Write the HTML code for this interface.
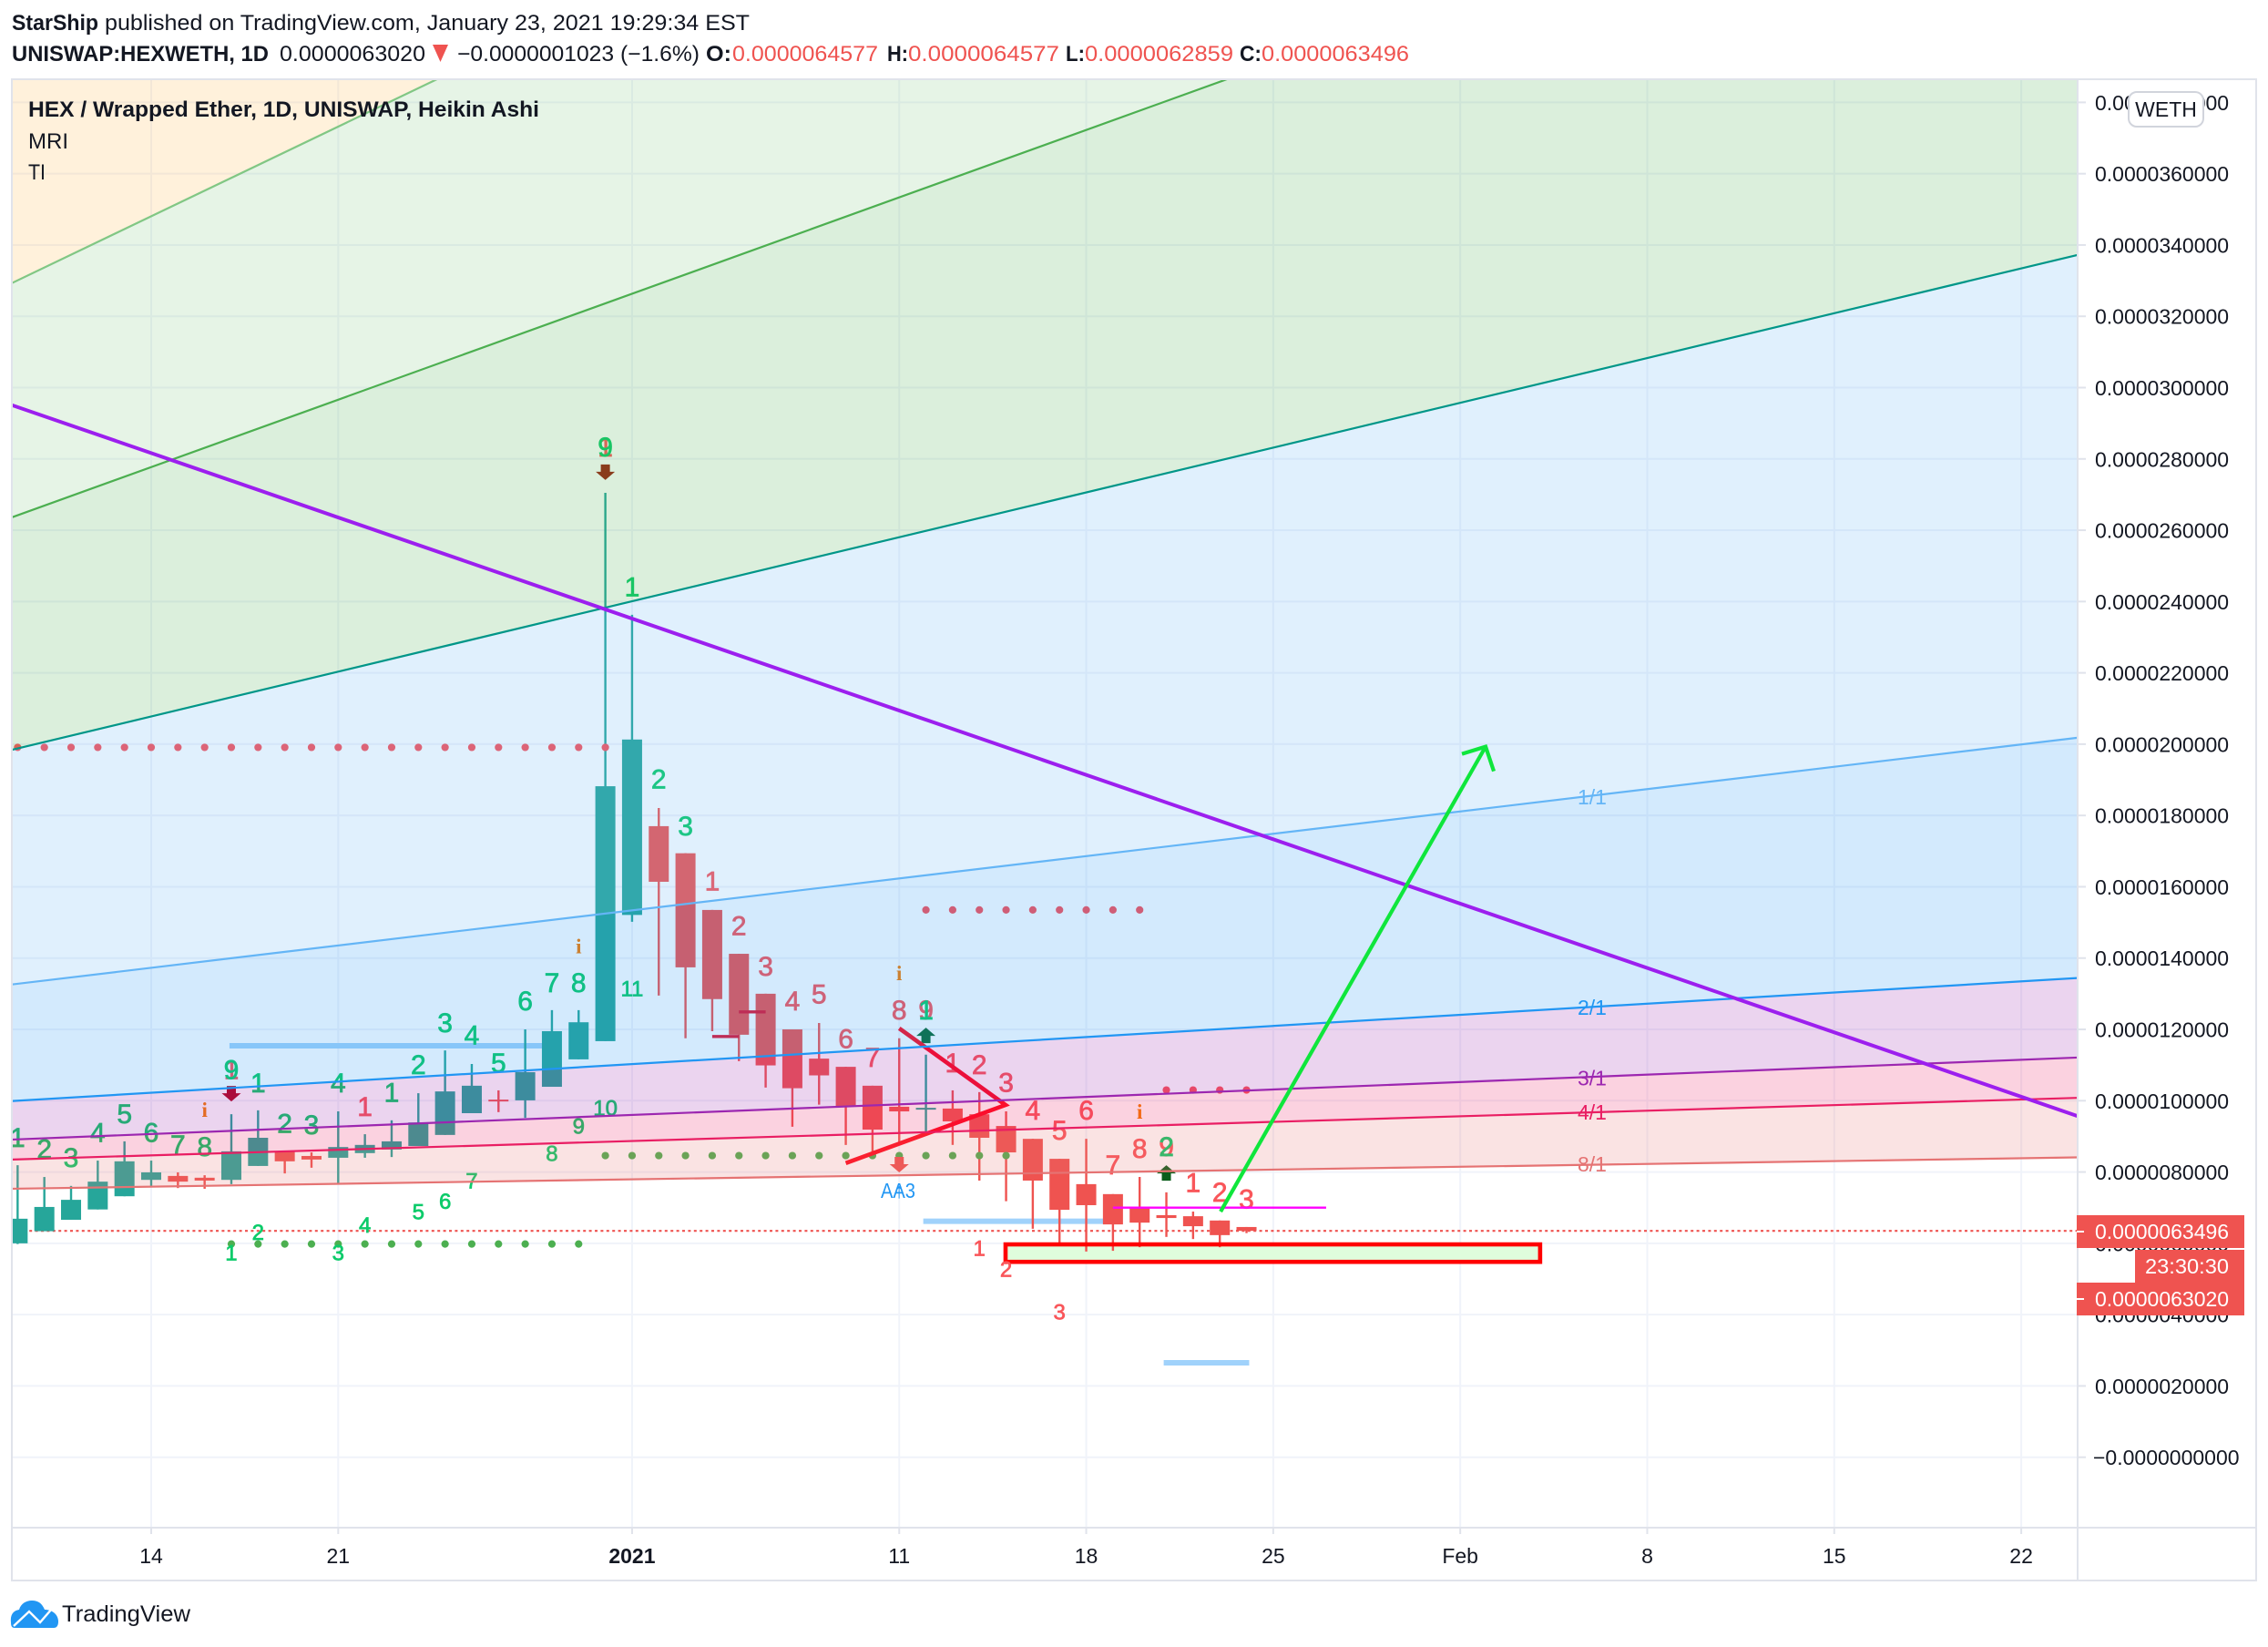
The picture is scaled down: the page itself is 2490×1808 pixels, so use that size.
<!DOCTYPE html>
<html lang="en">
<head>
<meta charset="utf-8">
<title>HEX / Wrapped Ether chart</title>
<style>
html,body{margin:0;padding:0;background:#fff;width:2490px;height:1808px;overflow:hidden}
svg{display:block}
text{font-family:"Liberation Sans","DejaVu Sans",sans-serif}
</style>
</head>
<body>
<svg id="page" xmlns="http://www.w3.org/2000/svg" width="2490" height="1808" viewBox="0 0 2490 1808">
  <defs><clipPath id="pane-clip"><rect x="14" y="88" width="2267" height="1588"/></clipPath></defs>
  <rect x="0" y="0" width="2490" height="1808" fill="#fff"/>

  <g fill="#131722" font-size="24">
    <text x="13" y="33" font-weight="700" textLength="95" lengthAdjust="spacingAndGlyphs">StarShip</text>
    <text x="115" y="33" textLength="708" lengthAdjust="spacingAndGlyphs">published on TradingView.com, January 23, 2021 19:29:34 EST</text>
  </g>
  <g fill="#131722" font-size="24">
    <text x="13" y="67" font-weight="700" textLength="282" lengthAdjust="spacingAndGlyphs">UNISWAP:HEXWETH, 1D</text>
    <text x="307" y="67" textLength="160" lengthAdjust="spacingAndGlyphs">0.0000063020</text>
    <polygon points="475,49 492,49 483.5,68" fill="#ef5350"/>
    <text x="502" y="67" textLength="266" lengthAdjust="spacingAndGlyphs">−0.0000001023 (−1.6%)</text>
    <text x="775" y="67" font-weight="700" textLength="28" lengthAdjust="spacingAndGlyphs">O:</text>
    <text x="804" y="67" fill="#ef5350" textLength="160" lengthAdjust="spacingAndGlyphs">0.0000064577</text>
    <text x="974" y="67" font-weight="700" textLength="23" lengthAdjust="spacingAndGlyphs">H:</text>
    <text x="997" y="67" fill="#ef5350" textLength="166" lengthAdjust="spacingAndGlyphs">0.0000064577</text>
    <text x="1170" y="67" font-weight="700" textLength="21" lengthAdjust="spacingAndGlyphs">L:</text>
    <text x="1191" y="67" fill="#ef5350" textLength="163" lengthAdjust="spacingAndGlyphs">0.0000062859</text>
    <text x="1361" y="67" font-weight="700" textLength="24" lengthAdjust="spacingAndGlyphs">C:</text>
    <text x="1385" y="67" fill="#ef5350" textLength="162" lengthAdjust="spacingAndGlyphs">0.0000063496</text>
  </g>

  <g id="pane" clip-path="url(#pane-clip)"></g>
  <g id="axes"></g>

  <rect x="13" y="87" width="2464" height="1648" fill="none" stroke="#e0e3eb" stroke-width="2"/>
  <line x1="2281" y1="87" x2="2281" y2="1735" stroke="#e0e3eb" stroke-width="2"/>
  <line x1="13" y1="1677" x2="2477" y2="1677" stroke="#e0e3eb" stroke-width="2"/>

  <g fill="#131722" font-size="24">
    <text x="31" y="128" font-weight="700" textLength="561" lengthAdjust="spacingAndGlyphs">HEX / Wrapped Ether, 1D, UNISWAP, Heikin Ashi</text>
    <text x="31" y="163" textLength="44" lengthAdjust="spacingAndGlyphs">MRI</text>
    <text x="31" y="197" textLength="19" lengthAdjust="spacingAndGlyphs">TI</text>
  </g>

  <g>
    <rect x="2337" y="101" width="82" height="38" rx="9" fill="#fff" stroke="#d1d4dc" stroke-width="2"/>
    <text x="2378" y="128" font-size="23" fill="#131722" text-anchor="middle">WETH</text>
  </g>

  <g>
    <rect x="2344" y="1372" width="120" height="38" fill="#ef5350"/>
    <text x="2447" y="1398" font-size="23" fill="#fff" text-anchor="end" textLength="92" lengthAdjust="spacingAndGlyphs">23:30:30</text>
    <rect x="2280" y="1334" width="184" height="36" fill="#ef5350"/>
    <line x1="2280" y1="1352" x2="2288" y2="1352" stroke="#fff" stroke-width="2"/>
    <text x="2300" y="1360" font-size="23" fill="#fff">0.0000063496</text>
    <rect x="2280" y="1408" width="184" height="36" fill="#ef5350"/>
    <line x1="2280" y1="1426" x2="2288" y2="1426" stroke="#fff" stroke-width="2"/>
    <text x="2300" y="1434" font-size="23" fill="#fff">0.0000063020</text>
  </g>

  <g>
    <path d="M12 1781 C11 1772 15 1768 21 1767 C23 1760 29 1757 35 1757 C42 1757 46 1760 49 1767 C57 1767 64 1772 64 1780 C64 1785 62 1787 59 1787 L16 1787 C13 1787 12 1785 12 1781 Z" fill="#2196f3"/>
    <path d="M15 1785 L32 1769 L44 1781 L57 1766" fill="none" stroke="#fff" stroke-width="2.4"/>
    <text x="68" y="1780" font-size="25" fill="#131722" textLength="141" lengthAdjust="spacingAndGlyphs">TradingView</text>
  </g>
</svg>

<script>
/* ---- values are in units of 1e-6 WETH; days are counted from Dec 14, 2020 ---- */
const candleDays = [-5,-4,-3,-2,-1,0,1,2,3,4,5,6,7,8,9,10,11,12,13,14,15,16,17,18,19,20,21,22,23,24,25,26,27,28,29,30,31,32,33,34,35,36,37,38,39,40,41];
const opens  = [6.00,6.34,6.66,6.95,7.32,7.78,7.89,7.84,7.78,8.17,8.58,8.45,8.40,8.53,8.63,8.73,9.04,9.65,10.03,10.01,10.39,11.16,11.67,15.21,17.70,16.94,15.35,14.12,13.00,12.00,11.18,10.95,10.42,9.83,9.77,9.78,9.62,9.29,8.93,8.37,7.66,7.38,6.99,6.79,6.76,6.64,6.4577];
const highs  = [8.19,7.86,7.61,8.32,8.86,8.32,7.99,7.91,9.62,9.73,8.58,8.55,9.70,9.06,9.45,10.21,11.41,11.03,10.29,12.00,12.54,12.54,27.05,23.63,18.21,16.94,15.35,14.12,13.00,12.00,12.18,10.95,10.42,11.75,11.29,10.29,10.24,9.70,8.93,8.37,8.93,7.38,7.86,7.43,6.89,6.64,6.4577];
const lows   = [5.98,6.34,6.66,6.95,7.32,7.61,7.55,7.53,7.66,8.17,7.96,8.12,7.68,8.40,8.42,8.73,9.04,9.65,9.68,9.52,10.39,11.16,11.67,15.02,12.95,11.75,11.95,11.11,10.37,9.27,9.89,8.76,8.51,8.81,9.14,8.76,7.76,7.18,6.41,6.00,5.77,5.79,5.89,6.18,6.12,5.89,6.2859];
const closes = [6.69,7.02,7.22,7.73,8.30,7.99,7.73,7.76,8.58,8.96,8.30,8.35,8.70,8.76,8.86,9.39,10.26,10.42,9.98,10.80,11.95,12.20,18.82,20.13,16.14,13.74,12.85,11.85,10.99,10.35,10.71,9.85,9.19,9.70,9.80,9.42,8.96,8.55,7.76,6.94,7.07,6.53,6.58,6.71,6.48,6.23,6.3496];

const yTickLabels = ['0.0000380000','0.0000360000','0.0000340000','0.0000320000','0.0000300000','0.0000280000','0.0000260000','0.0000240000','0.0000220000','0.0000200000','0.0000180000','0.0000160000','0.0000140000','0.0000120000','0.0000100000','0.0000080000','0.0000060000','0.0000040000','0.0000020000','−0.0000000000'];
const yTickValues = [38,36,34,32,30,28,26,24,22,20,18,16,14,12,10,8,6,4,2,0];
const xTickDays   = [0,7,18,28,35,42,49,56,63,70];
const xTickLabels = ['14','21','2021','11','18','25','Feb','8','15','22'];

/* TD-sequential counters: day, price, text */
const redLabels = [[3,10.88,'1'],[8,9.85,'1'],[17,28.35,'1'],[21,16.17,'1'],[22,14.92,'2'],[23,13.78,'3'],[24,12.81,'4'],[25,13.01,'5'],[26,11.75,'6'],[27,11.23,'7'],[28,12.56,'8'],[29,12.56,'9'],[30,11.08,'1'],[31,11.03,'2'],[32,10.52,'3'],[33,9.75,'4'],[34,9.19,'5'],[35,9.75,'6'],[36,8.22,'7'],[37,8.68,'8'],[38,8.73,'9'],[39,7.71,'1'],[40,7.45,'2'],[41,7.25,'3']];
const greenLabels = [[-5,8.98,'1'],[-4,8.66,'2'],[-3,8.42,'3'],[-2,9.12,'4'],[-1,9.65,'5'],[0,9.12,'6'],[1,8.77,'7'],[2,8.73,'8'],[3,10.88,'9'],[4,10.51,'1'],[5,9.38,'2'],[6,9.34,'3'],[7,10.51,'4'],[9,10.25,'1'],[10,11.02,'2'],[11,12.20,'3'],[12,11.85,'4'],[13,11.08,'5'],[14,12.81,'6'],[15,13.32,'7'],[16,13.32,'8'],[17,28.35,'9'],[18,24.43,'1'],[19,19.04,'2'],[20,17.72,'3'],[29,12.56,'1'],[38,8.73,'2']];
const smallGreenLabels = [[3,5.74,'1'],[4,6.32,'2'],[7,5.74,'3'],[8,6.53,'4'],[10,6.89,'5'],[11,7.19,'6'],[12,7.76,'7'],[15,8.53,'8'],[16,9.29,'9'],[17,9.81,'10'],[18,13.16,'11']];
const smallRedLabels = [[31,5.87,'1'],[32,5.28,'2'],[34,4.08,'3']];
const infoMarks = [[2,9.75],[16,14.34],[28,13.58],[37,9.70]];

/* signal arrows: day, tip price */
const downArrows = [[3,9.98,'#b0061f'],[17,27.41,'#9a2010'],[28,7.99,'#ef5350']];
const upArrows   = [[29,12.05,'#0a6a32'],[38,8.19,'#0b5e1b']];

/* dot rows: price, first day, last day */
const redDotRows   = [[19.91,-5,17],[15.35,29,37],[10.30,38,41]];
const greenDotRows = [[5.98,3,16],[8.46,17,32]];

/* Gann fan: start day, start price, end day, end price */
const fanDays = [-5.22,72.1];
const fanNames = ['a','b','c','1-1','2-1','3-1','4-1','8-1'];
const fanStartDays = [-5.22,-5.22,-5.22,-5.22,-5.22,-5.22,-5.22,-5.22];
const fanStartPrices = [32.93,26.36,19.84,13.26,9.99,8.91,8.35,7.53];
const fanEndDays = [10.7,40.27,72.1,72.1,72.1,72.1,72.1,72.1];
const fanEndPrices = [38.65,38.65,33.72,20.18,13.44,11.21,10.08,8.41];
const fanColors = ['#81c784','#4caf50','#009688','#64b5f6','#2196f3','#9c27b0','#e91e63','#e57373'];
const bandColors = ['#ffb74d','#81c784','#4caf50','#64b5f6','#2196f3','#9c27b0','#e91e63','#e57373'];
const fanLabelTexts = ['1/1','2/1','3/1','4/1','8/1'];
const fanLabelPrices = [18.51,12.62,10.64,9.67,8.22];
const fanLabelColors = ['#64b5f6','#2196f3','#9c27b0','#e91e63','#e57373'];

/* drawings */
const blueLevels = [[2.93,11.54,14.8],[28.9,6.62,35.7],[37.9,2.65,41.1]];
const shortRedLevels = [[21,11.80,22],[22,12.49,23]];
const purpleTrend = [-5.22,29.51,72.1,9.57];
const redWedge = [[28,12.03],[31.98,9.88],[26,8.25]];
const limeArrow = [40.03,6.89,49.95,19.93];
const magentaLevel = [36,7.0,43.98];
const supportBox = [31.98,5.97,51.99,5.48];
const lastPrice = 6.3496;

/* axis functions */
function xAt(day){ return 166 + 29.33*day; }
function yAt(value){ return 1208.3 - (value-10)*39.14; }

const NS = 'http://www.w3.org/2000/svg';
function mk(parent, tag, attrs, txt){
  const e = document.createElementNS(NS, tag);
  for(const k in attrs) e.setAttribute(k, attrs[k]);
  if(txt!==undefined) e.textContent = txt;
  parent.appendChild(e);
  return e;
}
const pane = document.getElementById('pane');
const axes = document.getElementById('axes');

/* grid */
yTickValues.forEach(v=>{
  const l = mk(pane,'line',{x1:13,x2:2281,y1:yAt(v),y2:yAt(v),stroke:'#f0f3fa','stroke-width':2});
  
  
});
xTickDays.forEach(d=>{
  const l = mk(pane,'line',{x1:xAt(d),x2:xAt(d),y1:87,y2:1677,stroke:'#f0f3fa','stroke-width':2});
  
  
});

/* support box fill */
const boxFill = mk(pane,'rect',{x:xAt(supportBox[0]),y:yAt(supportBox[1]),width:xAt(supportBox[2])-xAt(supportBox[0]),height:yAt(supportBox[3])-yAt(supportBox[1]),fill:'#dffddc'});



/* last price line */
const pl = mk(pane,'line',{x1:13,x2:2281,y1:yAt(lastPrice),y2:yAt(lastPrice),stroke:'#ef5350','stroke-width':2.2,'stroke-dasharray':'3 3.4'});



/* blue levels below candles */
blueLevels.forEach(b=>{
  const l = mk(pane,'line',{x1:xAt(b[0]),x2:xAt(b[2]),y1:yAt(b[1]),y2:yAt(b[1]),stroke:'#a0d2fb','stroke-width':6});
  
  
});

/* candles */
candleDays.forEach((d,i)=>{
  const up = closes[i] >= opens[i];
  const col = up ? '#26a69a' : '#ef5350';
  const cg = mk(pane,'g',{});
  
  
  const w = mk(cg,'line',{x1:xAt(d),x2:xAt(d),y1:yAt(highs[i]),y2:yAt(lows[i]),stroke:col,'stroke-width':2.4});
  
  
  const top = yAt(Math.max(opens[i],closes[i]));
  const bot = yAt(Math.min(opens[i],closes[i]));
  const b = mk(cg,'rect',{x:xAt(d)-11,y:top,width:22,height:Math.max(bot-top,2),fill:col});
  
  
});

/* support box outline above wicks */
const boxEl = mk(pane,'rect',{x:xAt(supportBox[0]),y:yAt(supportBox[1]),width:xAt(supportBox[2])-xAt(supportBox[0]),height:yAt(supportBox[3])-yAt(supportBox[1]),fill:'none',stroke:'#ff0000','stroke-width':4.6});



/* dots */
redDotRows.forEach(r=>{
  for(let d=r[1]; d<=r[2]; d++){
    const c = mk(pane,'circle',{cx:xAt(d),cy:yAt(r[0]),r:4.1,fill:'#fb5158'});
    
    
  }
});
greenDotRows.forEach(r=>{
  for(let d=r[1]; d<=r[2]; d++){
    const c = mk(pane,'circle',{cx:xAt(d),cy:yAt(r[0]),r:4.1,fill:'#4caf50'});
    
    
  }
});

/* counters */
function labels(list, size, color, name){
  list.forEach(a=>{
    const t = mk(pane,'text',{x:xAt(a[0]),y:yAt(a[1])+size*0.36,'font-size':size,fill:color,stroke:color,'stroke-width':0.7,'text-anchor':'middle'},a[2]);
    
    
  });
}
labels(redLabels,30,'#f9565a','td-count-red');
labels(greenLabels,30,'#0ccb6a','td-count-green');
labels(smallGreenLabels,24,'#0ccb6a','td-setup-green');
labels(smallRedLabels,24,'#f9565a','td-setup-red');
infoMarks.forEach(a=>{
  const t = mk(pane,'text',{x:xAt(a[0]),y:yAt(a[1])+8,'font-size':23,'font-weight':700,fill:'#f57c00','text-anchor':'middle',style:'font-family:"Liberation Serif",serif'},'i');
  
  
});

/* arrows */
downArrows.forEach(a=>{
  const x = xAt(a[0]), y = yAt(a[1]);
  const p = mk(pane,'polygon',{points:[[x,y],[x-10.5,y-9],[x-5,y-9],[x-5,y-17],[x+5,y-17],[x+5,y-9],[x+10.5,y-9]].join(' '),fill:a[2]});
  
  
});
upArrows.forEach(a=>{
  const x = xAt(a[0]), y = yAt(a[1]);
  const p = mk(pane,'polygon',{points:[[x,y],[x-10.5,y+9],[x-5,y+9],[x-5,y+17],[x+5,y+17],[x+5,y+9],[x+10.5,y+9]].join(' '),fill:a[2]});
  
  
});

/* short red level lines + wedge */
shortRedLevels.forEach(b=>{
  const l = mk(pane,'line',{x1:xAt(b[0]),x2:xAt(b[2]),y1:yAt(b[1]),y2:yAt(b[1]),stroke:'#e5132f','stroke-width':3.4});
  
  
});
const wedge = mk(pane,'polyline',{points:redWedge.map(p=>xAt(p[0])+','+yAt(p[1])).join(' '),fill:'none',stroke:'#ff0a1e','stroke-width':4.6});



/* Gann bands (translucent, above candles) */
function fanPrice(i,d){
  return fanStartPrices[i] + (fanEndPrices[i]-fanStartPrices[i])*(d-fanStartDays[i])/(fanEndDays[i]-fanStartDays[i]);
}
const dL = fanDays[0], dR = fanDays[1];
bandColors.forEach((col,i)=>{
  let pts;
  if(i===0){
    pts = [[xAt(dL),yAt(fanPrice(0,dL))],[xAt(dL),0],[xAt(dR),0],[xAt(dR),yAt(fanPrice(0,dR))]];
  } else {
    pts = [[xAt(dL),yAt(fanPrice(i-1,dL))],[xAt(dR),yAt(fanPrice(i-1,dR))],[xAt(dR),yAt(fanPrice(i,dR))],[xAt(dL),yAt(fanPrice(i,dL))]];
  }
  const p = mk(pane,'polygon',{points:pts.join(' '),fill:col,'fill-opacity':0.2});
  
  
});
fanColors.forEach((col,i)=>{
  const l = mk(pane,'line',{x1:xAt(dL),y1:yAt(fanPrice(i,dL)),x2:xAt(dR),y2:yAt(fanPrice(i,dR)),stroke:col,'stroke-width':2.2});
  
  
});
fanLabelTexts.forEach((txt,i)=>{
  const t = mk(pane,'text',{x:1748,y:yAt(fanLabelPrices[i])+8,'font-size':23,fill:fanLabelColors[i],'text-anchor':'middle'},txt);
  
  
});

/* trend drawings */
const purple = mk(pane,'line',{x1:xAt(purpleTrend[0]),y1:yAt(purpleTrend[1]),x2:xAt(purpleTrend[2]),y2:yAt(purpleTrend[3]),stroke:'#9c1fee','stroke-width':4});



const magenta = mk(pane,'line',{x1:xAt(magentaLevel[0]),x2:xAt(magentaLevel[2]),y1:yAt(magentaLevel[1]),y2:yAt(magentaLevel[1]),stroke:'#ff00ff','stroke-width':2.4});



const ax1 = xAt(limeArrow[0]), ay1 = yAt(limeArrow[1]), ax2 = xAt(limeArrow[2]), ay2 = yAt(limeArrow[3]);
const lime = mk(pane,'line',{x1:ax1,y1:ay1,x2:ax2,y2:ay2,stroke:'#0fe63c','stroke-width':4.2});


const limeHead = mk(pane,'polyline',{points:[[ax2-26,ay2+8],[ax2,ay2],[ax2+9,ay2+27]].join(' '),fill:'none',stroke:'#0fe63c','stroke-width':4.2});



/* "A A ↑ 3" annotation */
const aa = mk(pane,'text',{x:967,y:1315,'font-size':23,fill:'#2196f3',textLength:38,lengthAdjust:'spacingAndGlyphs'},'AA3');


const aup = mk(pane,'text',{x:987,y:1315,'font-size':23,fill:'#2196f3','text-anchor':'middle'},'↑');



/* price axis */
yTickLabels.forEach((txt,i)=>{
  const y = yAt(yTickValues[i]);
  const tk = mk(axes,'line',{x1:2281,x2:2290,y1:y,y2:y,stroke:'#e0e3eb','stroke-width':2});
  
  
  const t = mk(axes,'text',{x:txt[0]==='−'?2298:2300,y:y+8.5,'font-size':23,fill:'#131722'},txt);
  
  
});

/* time axis */
xTickLabels.forEach((txt,i)=>{
  const x = xAt(xTickDays[i]);
  const tk = mk(axes,'line',{x1:x,x2:x,y1:1677,y2:1684,stroke:'#e0e3eb','stroke-width':2});
  
  
  const attrs = {x:x,y:1716,'font-size':23,fill:'#131722','text-anchor':'middle'};
  if(txt==='2021') attrs['font-weight'] = 700;
  const t = mk(axes,'text',attrs,txt);
  
  
});
</script>
</body>
</html>
